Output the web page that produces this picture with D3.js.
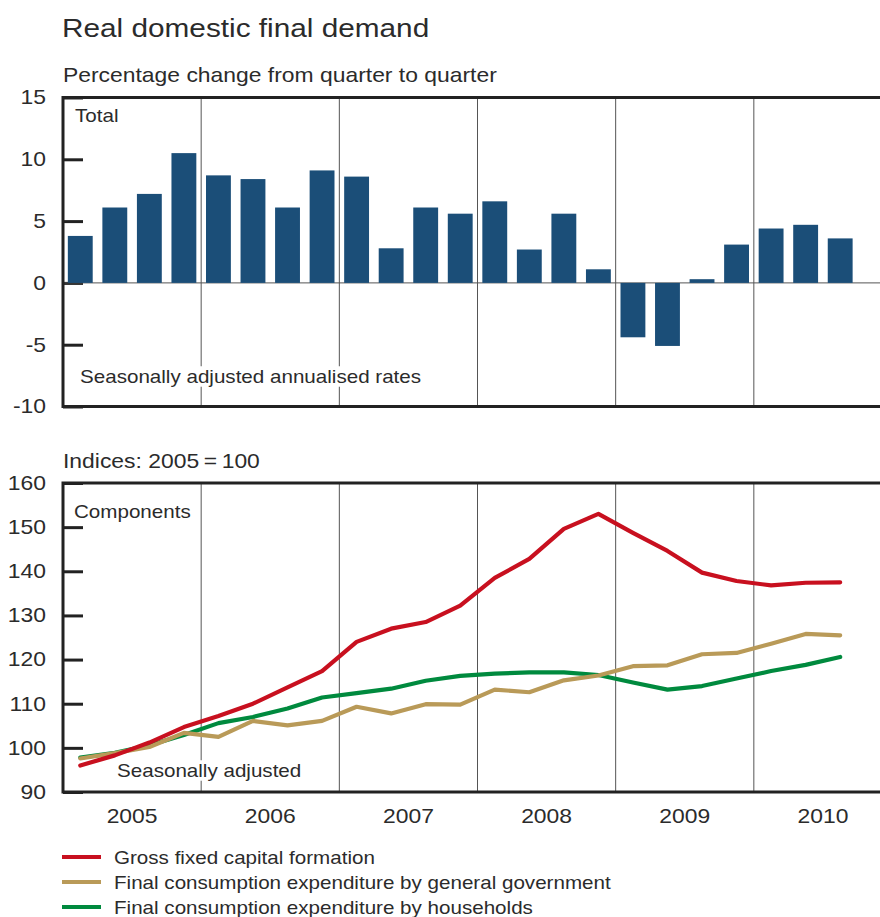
<!DOCTYPE html>
<html>
<head>
<meta charset="utf-8">
<script src="https://cdn.jsdelivr.net/npm/d3@7"></script>
<style>
  body { margin: 0; background: #fff; }
  svg { display: block; font-family: "Liberation Sans", Arial, sans-serif; }
  text { fill: #2b2b2b; }
</style>
</head>
<body>
<svg id="chart" width="880" height="917"></svg>
<script>
// years shown on the x axis, each split in four quarters
const years = ["2005", "2006", "2007", "2008", "2009", "2010"]
const quarters = ["Q1", "Q2", "Q3", "Q4"]

// total, % change q/q, seasonally adjusted annualised, 2005Q1 - 2010Q3
const totalChange = [3.8, 6.1, 7.2, 10.5, 8.7, 8.4, 6.1, 9.1, 8.6, 2.8, 6.1, 5.6,
                     6.6, 2.7, 5.6, 1.1, -4.4, -5.1, 0.3, 3.1, 4.4, 4.7, 3.6]

// components, indices 2005 = 100
const grossFixedCapital = [96.0, 98.3, 101.2, 104.7, 107.2, 110.0, 113.7, 117.4, 124.0, 127.0, 128.5, 132.2,
                           138.5, 142.8, 149.6, 153.0, 148.7, 144.6, 139.7, 137.8, 136.8, 137.4, 137.5]
const govConsumption = [97.6, 98.8, 100.2, 103.4, 102.5, 106.1, 105.1, 106.1, 109.3, 107.8, 109.9, 109.8,
                        113.2, 112.6, 115.3, 116.4, 118.5, 118.7, 121.2, 121.5, 123.6, 125.8, 125.5]
const householdConsumption = [97.8, 98.9, 100.6, 102.9, 105.6, 107.0, 108.9, 111.4, 112.4, 113.4, 115.2, 116.3,
                              116.8, 117.1, 117.1, 116.5, 114.8, 113.2, 114.0, 115.7, 117.4, 118.8, 120.6]

const topTicks = [15, 10, 5, 0, -5, -10]
const bottomTicks = [160, 150, 140, 130, 120, 110, 100, 90]

const seriesNames = ["Gross fixed capital formation",
                     "Final consumption expenditure by general government",
                     "Final consumption expenditure by households"]
const seriesColors = ["#c8101f", "#b99a58", "#008a3e"]

const svg = d3.select("#chart")

const left = 63
const right = 892   // frame runs on past the edge of the picture
const sx = 1.145    // the type in the original is a bit wide, stretch it sideways

const allQuarters = years.flatMap(y => quarters.map(q => y + q))
const dataQuarters = allQuarters.slice(0, totalChange.length)

const x = d3.scaleBand()
    .domain(allQuarters)
    .range([left, right])
    .paddingInner(0.28)
    .paddingOuter(0.14)
const xYear = d3.scaleBand()
    .domain(years)
    .range([left, right])

const yTop = d3.scaleLinear().domain([-10, 15]).range([406.5, 97.5])
const yBot = d3.scaleLinear().domain([90, 160]).range([792, 483])

// text placed at (tx,ty), stretched horizontally; optional white background
function addText(parent, txt, tx, ty, size, opts = {})
{
    const g = parent.append("g")
        .attr("transform", `translate(${tx},${ty}) scale(${sx},1)`)
    const t = g.append("text")
        .attr("text-anchor", opts.anchor || "start")
        .style("font-size", size + "px")
        .text(txt)
    if (opts.bg)
    {
        const b = t.node().getBBox()
        g.insert("rect", "text")
            .attr("x", b.x - 2).attr("y", b.y)
            .attr("width", b.width + 4).attr("height", b.height)
            .attr("fill", "#fff")
    }
    return g
}

// titles
addText(svg, "Real domestic final demand", 62, 37, 26)
addText(svg, "Percentage change from quarter to quarter", 63, 82, 20)
addText(svg, "Indices: 2005\u2009=\u2009100", 63, 468, 20)

// a panel: year dividers and y axis
function panel(y, ticks, top, bottom)
{
    const g = svg.append("g")

    g.selectAll("line.year")
        .data(years.slice(1))
        .join("line")
        .attr("x1", d => xYear(d))
        .attr("x2", d => xYear(d))
        .attr("y1", top)
        .attr("y2", bottom)
        .attr("stroke", "#555")
        .attr("stroke-width", 1)

    const axis = d3.axisLeft(y)
        .tickValues(ticks)
        .tickFormat(d => String(d))
        .tickSize(-20)
        .tickPadding(17)
    const ag = g.append("g")
        .attr("transform", `translate(${left},0)`)
        .call(axis)
    ag.select(".domain").remove()
    ag.selectAll(".tick line").attr("stroke", "#222").attr("stroke-width", 3)
    ag.selectAll(".tick text")
        .style("font-size", "20px")
        .attr("fill", "#2b2b2b")
        .attr("font-family", "Liberation Sans, Arial, sans-serif")
        .each(function ()
        {
            const t = d3.select(this)
            const tx = +t.attr("x")
            t.attr("x", 0).attr("transform", `translate(${tx},0) scale(${sx},1)`)
        })
    return g
}

function frame(top, bottom)
{
    svg.append("path")
        .attr("d", `M${right},${top}H${left}V${bottom}H${right}`)
        .attr("stroke", "#222")
        .attr("stroke-width", 3)
        .attr("fill", "none")
}

// top panel: bars
const gTop = panel(yTop, topTicks, 97.5, 406.5)

gTop.append("line")
    .attr("x1", left).attr("x2", right)
    .attr("y1", yTop(0)).attr("y2", yTop(0))
    .attr("stroke", "#555").attr("stroke-width", 1)

gTop.selectAll("rect.bar")
    .data(totalChange)
    .join("rect")
    .attr("class", "bar")
    .attr("x", (d, i) => x(dataQuarters[i]))
    .attr("width", x.bandwidth())
    .attr("y", d => yTop(Math.max(0, d)))
    .attr("height", d => Math.abs(yTop(d) - yTop(0)))
    .attr("fill", "#1b4e78")

addText(gTop, "Total", 75, 122, 18)
addText(gTop, "Seasonally adjusted annualised rates", 80, 383, 18, { bg: true })
frame(97.5, 406.5)

// bottom panel: lines
const gBot = panel(yBot, bottomTicks, 483, 792)

addText(gBot, "Components", 74, 518, 18)
addText(gBot, "Seasonally adjusted", 117, 777, 18, { bg: true })

const line = d3.line()
    .x((d, i) => x(dataQuarters[i]) + x.bandwidth() / 2)
    .y(d => yBot(d))

const series = [grossFixedCapital, govConsumption, householdConsumption]
// households first so the red line ends up on top
;[2, 1, 0].forEach(k =>
{
    gBot.append("path")
        .datum(series[k])
        .attr("fill", "none")
        .attr("stroke", seriesColors[k])
        .attr("stroke-width", 4.2)
        .attr("stroke-linejoin", "round")
        .attr("stroke-linecap", "round")
        .attr("d", line)
})
frame(483, 792)

// year labels
years.forEach(y =>
{
    addText(svg, y, xYear(y) + xYear.bandwidth() / 2, 823, 20, { anchor: "middle" })
})

// legend
seriesNames.forEach((name, i) =>
{
    const ly = 857 + i * 25
    svg.append("line")
        .attr("x1", 62).attr("x2", 101)
        .attr("y1", ly).attr("y2", ly)
        .attr("stroke", seriesColors[i])
        .attr("stroke-width", 4)
    addText(svg, name, 114, ly + 6.5, 18)
})
</script>
</body>
</html>
